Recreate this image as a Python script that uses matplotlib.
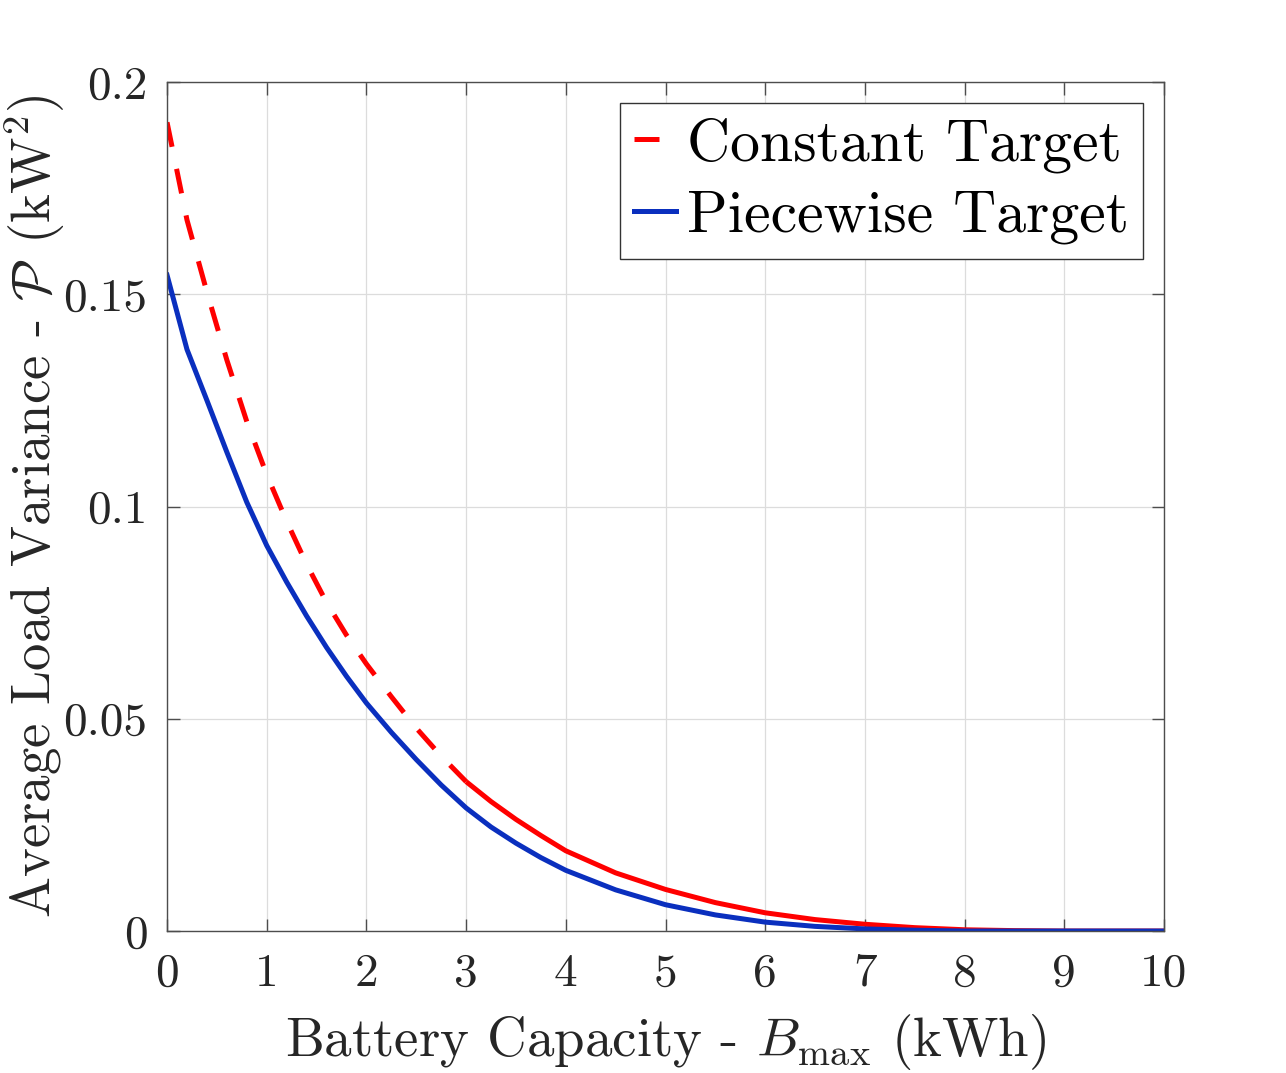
import numpy as np
import matplotlib
matplotlib.use("Agg")
import matplotlib.pyplot as plt

# battery capacity grid (kWh)
capacity = [0, 0.2, 0.4, 0.6, 0.8, 1.0, 1.2, 1.4, 1.6, 1.8, 2.0, 2.25, 2.5, 2.75,
            3.0, 3.25, 3.5, 3.75, 4.0, 4.5, 5.0, 5.5, 6.0, 6.5, 7.0, 7.5, 8.0,
            8.5, 9.0, 9.5, 10.0]

# average load variance (kW^2)
constant_target = [0.1905, 0.1675, 0.1505, 0.1345, 0.1200, 0.1075, 0.0965, 0.0864,
                   0.0774, 0.0697, 0.0629, 0.0552, 0.0478, 0.0412, 0.0352, 0.0305,
                   0.0263, 0.0225, 0.0189, 0.0137, 0.0098, 0.0067, 0.0043, 0.0027,
                   0.0016, 0.0008, 0.0003, 0.0001, 0.0, 0.0, 0.0]
piecewise_target = [0.1545, 0.1370, 0.1250, 0.1128, 0.1010, 0.0908, 0.0822, 0.0742,
                    0.0668, 0.0600, 0.0537, 0.0468, 0.0404, 0.0344, 0.0290, 0.0245,
                    0.0207, 0.0173, 0.0143, 0.0097, 0.0062, 0.0038, 0.0021, 0.0011,
                    0.0005, 0.0002, 0.0, 0.0, 0.0, 0.0, 0.0]

xticks = [0, 1, 2, 3, 4, 5, 6, 7, 8, 9, 10]
yticks = [0, 0.05, 0.1, 0.15, 0.2]
ytick_labels = ['0', '0.05', '0.1', '0.15', '0.2']

plt.rcParams['font.family'] = 'serif'
plt.rcParams['font.serif'] = ['cmr10']
plt.rcParams['mathtext.fontset'] = 'cm'
plt.rcParams['axes.formatter.use_mathtext'] = True

txt = '#262626'
red = '#ff0000'
blue = '#0a2fbe'

fig = plt.figure(figsize=(12.86, 10.73), dpi=100)
ax = fig.add_axes([0.1299, 0.1323, 0.7752, 0.7913])

x = np.array(capacity)
yc = np.array(constant_target)
yp = np.array(piecewise_target)

# the dashes merge into a solid line once the curve flattens
dashed = x <= 3.0
solid = x >= 3.0
ax.plot(x[dashed], yc[dashed], color=red, lw=3.6, linestyle=(0, (5, 4.5)),
        label='Constant Target')
ax.plot(x[solid], yc[solid], color=red, lw=3.6, solid_capstyle='butt')
ax.plot(x, yp, color=blue, lw=3.6, label='Piecewise Target')

ax.set_xlim(0, 10)
ax.set_ylim(0, 0.2)
ax.set_xticks(xticks)
ax.set_xticklabels([str(t) for t in xticks])
ax.set_yticks(yticks)
ax.set_yticklabels(ytick_labels)

ax.grid(True, color='#dcdcdc', lw=0.9)
ax.set_axisbelow(True)
for s in ax.spines.values():
    s.set_color('#4d4d4d')
    s.set_linewidth(1.0)
ax.tick_params(direction='in', length=9, width=1.0, colors='#4d4d4d',
               top=True, right=True, labelsize=34, labelcolor=txt)
ax.tick_params(axis='x', pad=16)
ax.tick_params(axis='y', pad=14)

ax.set_xlabel(r'Battery Capacity - $B_{\mathrm{max}}$ (kWh)', fontsize=39.5,
              color=txt, labelpad=12)
ax.set_ylabel(r'Average Load Variance - $\mathcal{P}$ (kW$^2$)', fontsize=39.5,
              color=txt)
# label sits close to the tick numbers, as in the original
ax.yaxis.set_label_coords(-0.1, 0.5)

leg = ax.legend(loc='upper right', fontsize=43, handlelength=0.7,
                handletextpad=0.18, borderaxespad=0.35, fancybox=False,
                framealpha=1, edgecolor='#333333', borderpad=0.24,
                labelspacing=0.29)
leg.get_frame().set_linewidth(1.0)

fig.savefig('out.png', dpi=100, facecolor='white')
